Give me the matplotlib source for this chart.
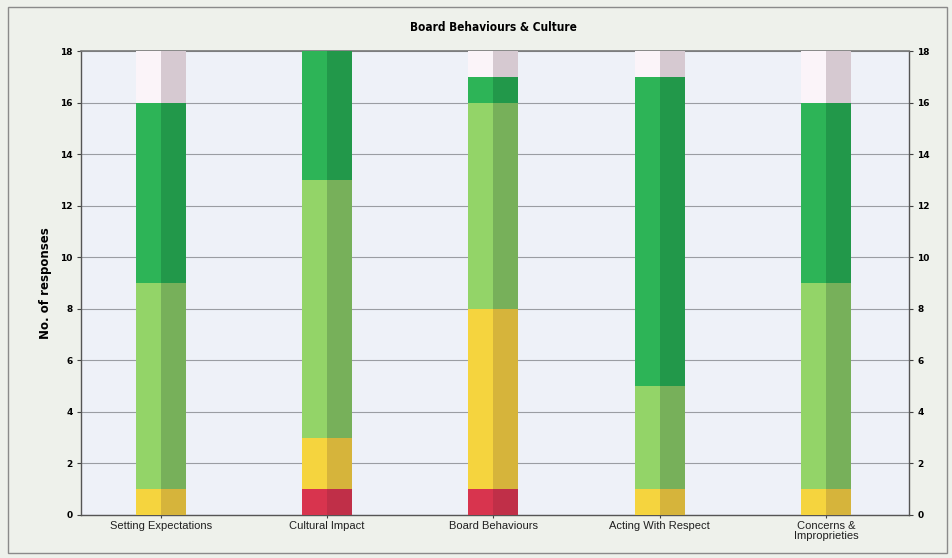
import matplotlib.pyplot as plt
from matplotlib.patches import Rectangle

# survey responses per question, stacked from the bottom
categories = ['Setting Expectations', 'Cultural Impact', 'Board Behaviours',
              'Acting With Respect', 'Concerns &\nImproprieties']
red = [0, 1, 1, 0, 0]
yellow = [1, 2, 7, 1, 1]
light_green = [8, 10, 8, 4, 8]
dark_green = [7, 5, 1, 12, 7]
total = 18
remainder = [total - (a + b + c + d) for a, b, c, d in zip(red, yellow, light_green, dark_green)]

# each series: (values, left face colour, right face colour)
series = [
    (red, '#d8344e', '#c02f48'),
    (yellow, '#f5d43e', '#d6b43b'),
    (light_green, '#93d468', '#77b05a'),
    (dark_green, '#2db457', '#22984a'),
    (remainder, '#fbf4f9', '#d6c9d1'),
]

fig = plt.figure(figsize=(9.53, 5.58), dpi=100)
fig.patch.set_facecolor('#eef1eb')
fig.patches.append(Rectangle((0.008, 0.009), 0.986, 0.978, transform=fig.transFigure,
                             fill=False, edgecolor='#8a8a8a', linewidth=1.0))

ax = fig.add_axes([0.085, 0.0771, 0.869, 0.8315])
ax.set_facecolor('#eef1f8')

x = list(range(len(categories)))
w = 0.30
bottom = [0] * len(categories)
for vals, c_left, c_right in series:
    ax.bar([i - w / 2 for i in x], vals, width=w / 2, bottom=bottom, align='edge',
           color=c_left, linewidth=0, zorder=3)
    ax.bar(x, vals, width=w / 2, bottom=bottom, align='edge',
           color=c_right, linewidth=0, zorder=3)
    bottom = [b + v for b, v in zip(bottom, vals)]

ax.set_xlim(-0.48, 4.5)
ax.set_ylim(0, 18)
ax.set_yticks(range(0, 19, 2))
ax.yaxis.grid(True, color='#9a9da3', linewidth=0.8, zorder=1)
ax.set_axisbelow(True)

ax.set_xticks(x)
ax.set_xticklabels(categories, fontsize=8, family='Liberation Sans', color='#202020',
                   linespacing=1.1)
ax.tick_params(axis='x', length=4, width=0.8, color='#404040', pad=2, direction='inout')
ax.tick_params(axis='y', length=3, width=0.8, color='#404040', labelsize=6.5, pad=3,
               right=True, labelright=True)
for lab in ax.get_yticklabels():
    lab.set_fontweight('bold')

for side in ['left', 'right', 'bottom']:
    ax.spines[side].set_color('#555555')
    ax.spines[side].set_linewidth(1.0)
ax.spines['top'].set_color('#777777')
ax.spines['top'].set_linewidth(1.2)

ax.set_ylabel('No. of responses', fontsize=8.5, fontweight='bold', labelpad=6)
fig.text(0.518, 0.951, 'Board Behaviours & Culture', ha='center', va='center',
         fontsize=8.5, fontweight='bold', family='DejaVu Sans', fontstretch='condensed')

fig.savefig('out.png', dpi=100, facecolor=fig.get_facecolor())
